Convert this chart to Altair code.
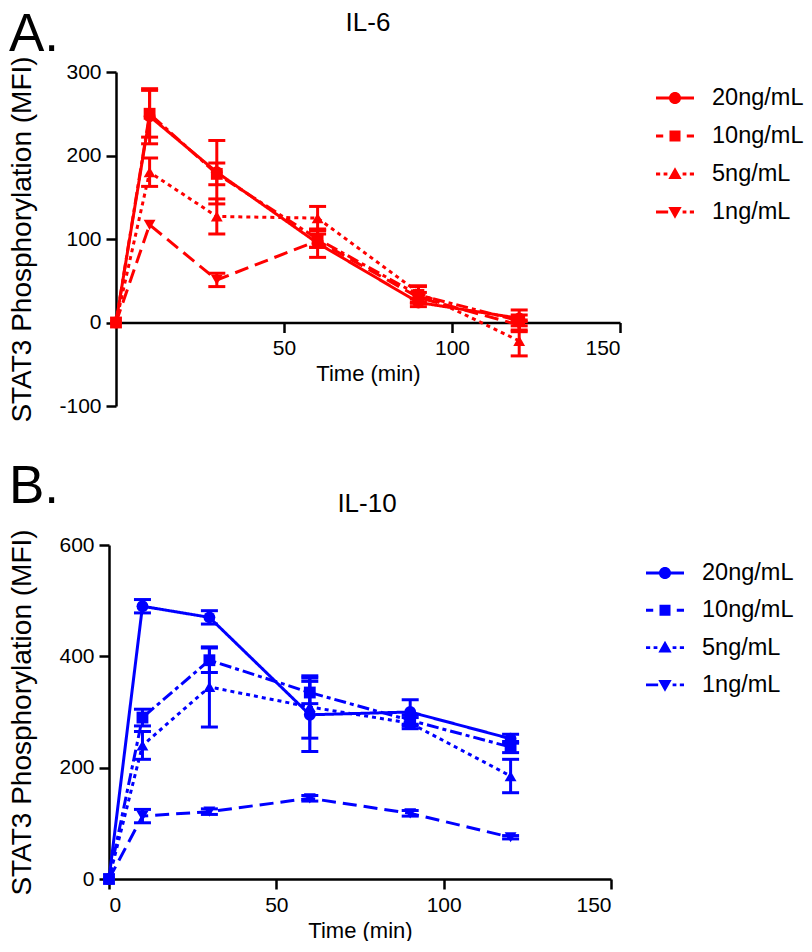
import altair as alt
import pandas as pd

# ---------------- data ----------------
times = [0, 10, 30, 60, 90, 120]
series = ["20ng/mL", "10ng/mL", "5ng/mL", "1ng/mL"]

# IL-6 (panel A): mean and SEM per concentration
il6_20 = [0, 247, 180, 95, 24, 5]
il6_20_err = [0, 33, 38, 17, 5, 4]
il6_10 = [0, 250, 178, 100, 33, 2]
il6_10_err = [0, 28, 13, 10, 10, 13]
il6_5 = [0, 180, 127, 125, 36, -22]
il6_5_err = [0, 17, 21, 14, 8, 18]
il6_1 = [0, 117, 51, 98, 30, -3]
il6_1_err = [0, 0, 8, 8, 6, 6]

# IL-10 (panel B)
il10_20 = [0, 490, 470, 295, 300, 252]
il10_20_err = [0, 12, 12, 66, 22, 8]
il10_10 = [0, 290, 393, 335, 285, 237]
il10_10_err = [0, 15, 22, 20, 10, 10]
il10_5 = [0, 240, 345, 309, 280, 185]
il10_5_err = [0, 25, 72, 56, 10, 30]
il10_1 = [0, 113, 121, 145, 118, 75]
il10_1_err = [0, 12, 5, 5, 5, 3]

y_ticks_a = [-100, 0, 100, 200, 300]
y_ticks_b = [0, 200, 400, 600]
x_ticks_a = [50, 100, 150]
x_ticks_b = [0, 50, 100, 150]


def make_df(means, errs):
    rows = []
    for s, m, e in zip(series, means, errs):
        for t, v, er in zip(times, m, e):
            rows.append({"time": t, "series": s, "mean": v, "err": er})
    return pd.DataFrame(rows)


df_a = make_df([il6_20, il6_10, il6_5, il6_1],
               [il6_20_err, il6_10_err, il6_5_err, il6_1_err])
df_b = make_df([il10_20, il10_10, il10_5, il10_1],
               [il10_20_err, il10_10_err, il10_5_err, il10_1_err])

FONT = "Liberation Sans"
dashes = [[1, 0], [12, 4, 4, 4], [4, 4], [14, 7]]
marker_shapes = ["circle", "square", "triangle-up", "triangle-down"]

# legend symbols: line segments (thin rectangles) plus marker, in -1..1 space
h = 0.075
def seg(a, b):
    return f"M{a},{-h}L{b},{-h}L{b},{h}L{a},{h}Z"

circle = "M0.32,0A0.32,0.32 0 1,1 -0.32,0A0.32,0.32 0 1,1 0.32,0Z"
square = "M-0.29,-0.29L0.29,-0.29L0.29,0.29L-0.29,0.29Z"
tri_up = "M0,-0.36L0.35,0.26L-0.35,0.26Z"
tri_dn = "M0,0.36L0.35,-0.26L-0.35,-0.26Z"
legend_paths = [
    seg(-1, -0.3) + seg(0.3, 1) + circle,
    seg(-1, -0.62) + seg(0.62, 1) + square,
    seg(-1, -0.78) + seg(-0.6, -0.4) + seg(0.4, 0.6) + seg(0.78, 1) + tri_up,
    seg(-1, -0.36) + seg(0.4, 0.6) + seg(0.78, 1) + tri_dn,
]


def panel(df, color, title, letter, ydom, yvals, xvals, w, hgt, shift,
          title_offset, letter_offset, leg_x, leg_y, row_pad):
    x_off = -hgt * (0 - ydom[0]) / (ydom[1] - ydom[0])
    xaxis = alt.Axis(values=xvals, title="Time (min)", offset=x_off,
                     titlePadding=5, titleFontSize=22)
    yaxis = alt.Axis(values=yvals, title="STAT3 Phosphorylation (MFI)",
                     titlePadding=22, titleFontSize=28, offset=shift,
                     labelExpr="replace(datum.label, '\u2212', '-')")
    xs = alt.Scale(domain=[0, 150], nice=False, range=[-shift, w - shift])
    ys = alt.Scale(domain=ydom, nice=False, zero=False)
    base = alt.Chart(df)
    lines = base.mark_line(color=color, strokeWidth=3).encode(
        x=alt.X("time:Q", scale=xs, axis=xaxis),
        y=alt.Y("mean:Q", scale=ys, axis=yaxis),
        strokeDash=alt.StrokeDash("series:N",
                                  scale=alt.Scale(domain=series, range=dashes),
                                  legend=None),
    )
    errs = base.transform_filter("datum.err > 0").transform_calculate(
        lo="datum.mean - datum.err", hi="datum.mean + datum.err"
    ).mark_errorbar(ticks=True, color=color, size=17, thickness=3,
                    opacity=1).encode(
        x=alt.X("time:Q", scale=xs, axis=xaxis),
        y=alt.Y("lo:Q", scale=ys, axis=yaxis),
        y2="hi:Q",
    )
    points = base.mark_point(filled=True, size=140, opacity=1, color=color).encode(
        x=alt.X("time:Q", scale=xs, axis=xaxis),
        y=alt.Y("mean:Q", scale=ys, axis=yaxis),
        shape=alt.Shape("series:N",
                        scale=alt.Scale(domain=series, range=marker_shapes),
                        legend=None),
    )
    leg = base.transform_filter("false").mark_point(
        filled=True, opacity=1, color=color, size=1444, strokeWidth=0
    ).encode(
        shape=alt.Shape("series:N",
                        scale=alt.Scale(domain=series, range=legend_paths),
                        legend=alt.Legend(title=None, orient="none",
                                          legendX=leg_x, legendY=leg_y,
                                          padding=0, symbolSize=1444,
                                          symbolStrokeWidth=0,
                                          symbolFillColor=color,
                                          labelFontSize=23.5, labelFont=FONT,
                                          labelColor="black", labelOffset=18,
                                          rowPadding=row_pad)),
    )
    layer = alt.layer(lines, errs, points, leg).resolve_scale(
        shape="independent"
    ).properties(
        width=w, height=hgt,
        title=alt.Title(title, fontSize=26, font=FONT, fontWeight="normal",
                        color="black", offset=title_offset, frame="group"),
    )
    return alt.vconcat(layer, title=alt.Title(
        letter, anchor="start", frame="bounds", fontSize=53, font=FONT,
        fontWeight="normal", color="black", offset=letter_offset)
    ).resolve_scale(shape="independent", strokeDash="independent")


pa = panel(df_a, "#ff0000", "IL-6", "A.", [-100, 300], y_ticks_a, x_ticks_a,
           504, 334, 0, 20, -52, 540, 7, 7)
pb = panel(df_b, "#0000ff", "IL-10", "B.", [0, 600], y_ticks_b, x_ticks_b,
           502, 334, 7, 12, -23, 530, 9, 6.3)

chart = alt.concat(pa, pb, columns=1, align="none", spacing=37).resolve_scale(
    shape="independent", strokeDash="independent"
).properties(padding=0).configure_view(stroke=None).configure_axis(
    domainColor="black", domainWidth=2.5, tickColor="black", tickWidth=2.5,
    tickSize=10, labelFont=FONT, labelFontSize=21, labelColor="black",
    labelPadding=5, titleFont=FONT, titleFontWeight="normal",
    titleColor="black", grid=False,
)

chart.save("out.html", embed_options={"renderer": "svg", "actions": False})
